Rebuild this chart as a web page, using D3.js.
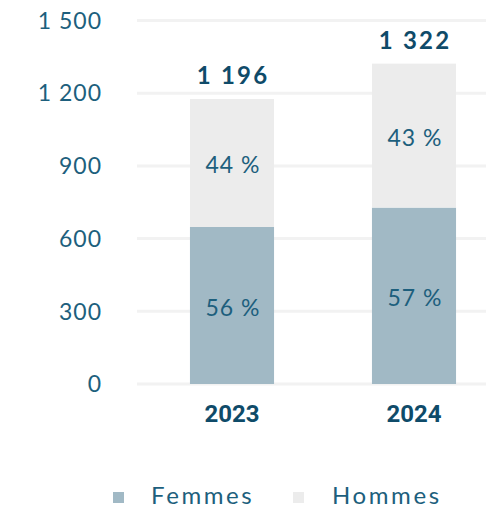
<!DOCTYPE html>
<html lang="fr">
<head>
<meta charset="UTF-8">
<script src="https://d3js.org/d3.v7.min.js"></script>
<style>
  body { margin: 0; background: #fff; }
  text { font-family: Lato, "Open Sans", sans-serif; }
</style>
</head>
<body>
<div id="chart"></div>
<script>
// data
var years = ["2023", "2024"];
var femmes = [648, 728];
var hommes = [528, 594];
var totalLabels = ["1 196", "1 322"];
var pctFemmes = ["56 %", "57 %"];
var pctHommes = ["44 %", "43 %"];
var yTicks = [0, 300, 600, 900, 1200, 1500];
var series = ["Femmes", "Hommes"];

var W = 486, H = 507;
var colors = { Femmes: "#a1b9c5", Hommes: "#ececec" };
var textCol = "#1d5f7d", darkCol = "#0f4b69";

var svg = d3.select("#chart").append("svg")
    .attr("width", W).attr("height", H);

var y = d3.scaleLinear().domain([0, 1500]).range([384, 20.5]);
var x = d3.scaleBand().domain(years).range([141, 505])
    .paddingInner(0.538).paddingOuter(0.269);

// grid lines
svg.append("g").selectAll("line")
    .data(yTicks).enter().append("line")
    .attr("x1", 137).attr("x2", W)
    .attr("y1", d => y(d)).attr("y2", d => y(d))
    .attr("stroke", "#f2f2f2").attr("stroke-width", 3);

// y axis labels
var fmt = d => d >= 1000 ? d3.format(",")(d).replace(",", " ") : String(d);
svg.append("g").selectAll("text")
    .data(yTicks).enter().append("text")
    .attr("x", 102).attr("y", d => y(d))
    .attr("dy", "0.36em")
    .attr("text-anchor", "end")
    .attr("font-size", 23)
    .attr("letter-spacing", 1)
    .attr("fill", textCol)
    .text(fmt);

// stacked bars
var rows = years.map((yr, i) => ({ year: yr, Femmes: femmes[i], Hommes: hommes[i], i: i }));
var stack = d3.stack().keys(series)(rows);

svg.append("g").selectAll("g")
    .data(stack).enter().append("g")
    .attr("fill", d => colors[d.key])
    .selectAll("rect")
    .data(d => d).enter().append("rect")
    .attr("x", d => x(d.data.year))
    .attr("width", x.bandwidth())
    .attr("y", d => y(d[1]))
    .attr("height", d => y(d[0]) - y(d[1]));

// percentage labels
stack.forEach(function (s) {
    var labs = s.key === "Femmes" ? pctFemmes : pctHommes;
    svg.append("g").selectAll("text")
        .data(s).enter().append("text")
        .attr("x", d => x(d.data.year) + x.bandwidth() / 2 + 1)
        .attr("y", d => (y(d[0]) + y(d[1])) / 2 + 2)
        .attr("dy", "0.36em")
        .attr("text-anchor", "middle")
        .attr("font-size", 23)
        .attr("letter-spacing", 1)
        .attr("fill", textCol)
        .text((d, i) => labs[i]);
});

// totals above bars
svg.append("g").selectAll("text")
    .data(rows).enter().append("text")
    .attr("x", d => x(d.year) + x.bandwidth() / 2 + 1)
    .attr("y", d => y(d.Femmes + d.Hommes) - 15)
    .attr("text-anchor", "middle")
    .attr("font-size", 24)
    .attr("font-weight", "bold")
    .attr("letter-spacing", 2.2)
    .attr("fill", darkCol)
    .text(d => totalLabels[d.i]);

// year labels
svg.append("g").selectAll("text")
    .data(years).enter().append("text")
    .attr("x", d => x(d) + x.bandwidth() / 2)
    .attr("y", 422)
    .attr("text-anchor", "middle")
    .attr("font-size", 24)
    .attr("font-weight", "bold")
    .style("font-family", "Roboto, sans-serif")
    .attr("fill", darkCol)
    .text(d => d);

// legend
var legX = [113, 293];
var leg = svg.append("g").selectAll("g")
    .data(series).enter().append("g")
    .attr("transform", (d, i) => "translate(" + legX[i] + ",492)");
leg.append("rect")
    .attr("width", 11).attr("height", 11)
    .attr("fill", d => colors[d]);
leg.append("text")
    .attr("x", (d, i) => i === 0 ? 38 : 39)
    .attr("y", 11.5)
    .attr("font-size", 24)
    .attr("letter-spacing", 2.6)
    .attr("fill", textCol)
    .text(d => d);
</script>
</body>
</html>
